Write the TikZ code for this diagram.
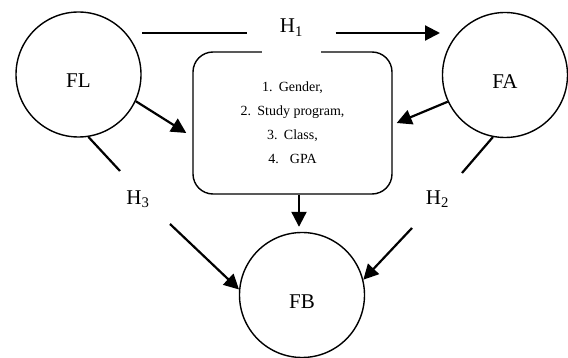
\documentclass[tikz,border=0pt]{standalone}
\usepackage{fontspec}
\setmainfont{Liberation Serif}
\usetikzlibrary{arrows.meta}
\begin{document}
\begin{tikzpicture}[x=1pt,y=-1pt,
  circ/.style={draw, circle, line width=1.4pt, minimum size=125pt, inner sep=0pt,
    text height=27pt, text depth=0pt, font=\fontsize{21}{25}\selectfont},
  lab/.style={inner sep=0pt, font=\fontsize{21}{25}\selectfont},
  conn/.style={line width=2.2pt},
  arr/.style={conn, -{Triangle[length=15pt,width=15pt]}},
  vbox/.style={draw, rounded corners=20pt, line width=1.4pt, minimum width=199pt,
    minimum height=142pt, align=center, font=\fontsize{14}{24}\selectfont}]
\useasboundingbox (0,0) rectangle (568,358);

\node[circ] (FL) at (78.5,74.5) {FL};
\node[circ] (FA) at (505,75) {FA};
\node[circ] (FB) at (302,295) {FB};

\node[vbox] (box) at (292.5,123) {1.\hspace{0.45em}Gender,\\2.\hspace{0.45em}Study program,\\3.\hspace{0.45em}Class,\\4.\hspace{0.8em}GPA};
\fill[white] (262,49) rectangle (321,56);

% H1
\coordinate (h1s) at (142,33);
\coordinate (h1e) at (440,33);
\node[lab, anchor=base, minimum width=88pt] (H1) at (291.5,33) {H\textsubscript{1}};
\draw[conn] (h1s) -- (H1.base west);
\draw[arr] (H1.base east) -- (h1e);

% H3
\coordinate (h3a) at (120,171);
\coordinate (h3b) at (170,224);
\node[lab] (H3) at (138,199) {H\textsubscript{3}};
\draw[conn] (FL.-81.5) -- (h3a);
\draw[arr] (h3b) -- (FB.175);

% H2
\coordinate (h2a) at (462,173);
\coordinate (h2b) at (412,228);
\node[lab] (H2) at (437.5,199) {H\textsubscript{2}};
\draw[conn] (FA.-101) -- (h2a);
\draw[arr] (h2b) -- (FB.14);

% to box and to FB
\draw[arr] (FL.-25.6) -- ([xshift=-6pt,yshift=-10pt]box.west);
\draw[arr] (FA.-155.7) -- ([xshift=4pt]box.east);
\draw[arr] ([xshift=6.5pt]box.south) -- ([xshift=-3pt,yshift=5pt]FB.north);
\end{tikzpicture}
\end{document}
